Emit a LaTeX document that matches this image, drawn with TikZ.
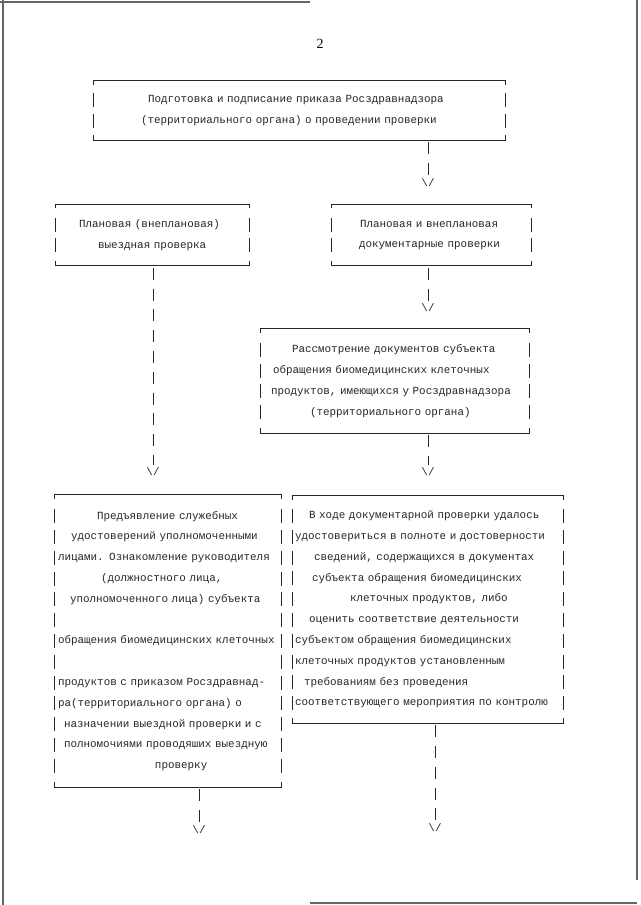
\documentclass[tikz,border=0pt]{standalone}
\usepackage{fontspec}
\setmainfont{Liberation Serif}
\setmonofont{Liberation Mono}
\newcommand\drawmyframe[2]{%
  \draw[frameline] ([yshift=-4pt]#1.north west) -- (#1.north west) -- (#1.north east) -- ([yshift=-4pt]#1.north east);
  \draw[frameline, line width=1.1pt] ([yshift=5pt]#1.south west) -- (#1.south west) -- (#1.south east) -- ([yshift=5pt]#1.south east);
  \foreach \k in {1,...,#2}{%
    \pgfmathsetmacro\dy{((#2+1)/2-\k)*20.8}%
    \draw[frameline] ([yshift={(\dy+7)*1pt}]#1.west) -- ([yshift={(\dy-7)*1pt}]#1.west);
    \draw[frameline] ([yshift={(\dy+7)*1pt}]#1.east) -- ([yshift={(\dy-7)*1pt}]#1.east);
  }%
}
\newcommand\myline[2]{\hspace*{#1pt}\mbox{#2}}
\begin{document}
\begin{tikzpicture}[x=1pt,y=-1pt,
  txt/.style={font=\ttfamily\fontsize{10.9}{20.8}\selectfont, text=black!85, inner sep=0pt},
  box/.style={txt, rectangle, align=left},
  frameline/.style={draw=black!85, line width=0.8pt},
  conn/.style={draw=black!85, line width=0.9pt, dash pattern=on 12pt off 8.8pt, shorten >=3pt},
  vtip/.style={txt, inner sep=0pt},
  pageline/.style={draw=black!60, line width=1.2pt}]
\useasboundingbox (0,0) rectangle (640,905);
% page frame of the scan
\draw[pageline] (3,0) -- (3,905);
\draw[pageline] (637,0) -- (637,880);
\draw[pageline] (0,2) -- (310,2);
\draw[pageline] (310,903) -- (637,903);
% page number
\node[font=\fontsize{14}{16}\selectfont, inner sep=0pt] (pnum) at (320,44) {2};
% boxes
\node[box, minimum width=411pt, text width=411pt, minimum height=59pt] (b1) at (299.5,110.5)
 {\myline{54}{Подготовка и подписание приказа Росздравнадзора}\\
  \myline{47}{(территориального органа) о проведении проверки}};
\drawmyframe{b1}{2}
\node[box, minimum width=193pt, text width=193pt, minimum height=61pt] (b2) at (152.5,235)
 {\myline{23}{Плановая (внеплановая)}\\
  \myline{42}{выездная проверка}};
\drawmyframe{b2}{2}
\node[box, minimum width=199pt, text width=199pt, minimum height=61pt] (b3) at (431.5,235)
 {\myline{28}{Плановая и внеплановая}\\
  \myline{27}{документарные проверки}};
\drawmyframe{b3}{2}
\node[box, minimum width=268pt, text width=268pt, minimum height=104pt] (b4) at (395,381)
 {\myline{31}{Рассмотрение документов субъекта}\\
  \myline{12}{обращения биомедицинских клеточных}\\
  \myline{10}{продуктов, имеющихся у Росздравнадзора}\\
  \myline{49}{(территориального органа)}};
\drawmyframe{b4}{4}
\node[box, minimum width=226pt, text width=226pt, minimum height=292pt] (b5) at (168,641)
 {\myline{42}{Предъявление служебных}\\
  \myline{16}{удостоверений уполномоченными}\\
  \myline{3}{лицами. Ознакомление руководителя}\\
  \myline{46}{(должностного лица,}\\
  \myline{15}{уполномоченного лица) субъекта}\\
  \mbox{}\\
  \myline{3}{обращения биомедицинских клеточных}\\
  \mbox{}\\
  \myline{3}{продуктов с приказом Росздравнад-}\\
  \myline{3}{ра(территориального органа) о}\\
  \myline{9}{назначении выездной проверки и с}\\
  \myline{9}{полномочиями проводяших выездную}\\
  \myline{100}{проверку}};
\drawmyframe{b5}{13}
\node[box, minimum width=270pt, text width=270pt, minimum height=227pt] (b6) at (428,609.5)
 {\myline{16}{В ходе документарной проверки удалось}\\
  \myline{2}{удостовериться в полноте и достоверности}\\
  \myline{21}{сведений, содержащихся в документах}\\
  \myline{19}{субъекта обращения биомедицинских}\\
  \myline{57}{клеточных продуктов, либо}\\
  \myline{16}{оценить соответствие деятельности}\\
  \myline{2}{субъектом обращения биомедицинских}\\
  \myline{2}{клеточных продуктов установленным}\\
  \myline{11}{требованиям без проведения}\\
  \myline{2}{соответствующего мероприятия по контролю}};
\drawmyframe{b6}{10}
% arrow tips written as text
\node[vtip] (a1) at (428,183) {\textbackslash/};
\node[vtip] (a3) at (428,308) {\textbackslash/};
\node[vtip] (a2) at (153,472) {\textbackslash/};
\node[vtip] (a4) at (428,472) {\textbackslash/};
\node[vtip] (a5) at (199,830) {\textbackslash/};
\node[vtip] (a6) at (435,828) {\textbackslash/};
% connectors
\draw[conn] ([yshift=-2pt]b1.south -| a1) -- (a1.north);
\draw[conn] ([yshift=-2pt]b3.south -| a3) -- (a3.north);
\draw[conn] ([yshift=-2pt]b2.south -| a2) -- (a2.north);
\draw[conn] ([yshift=-2pt]b4.south -| a4) -- (a4.north);
\draw[conn] ([yshift=-2pt]b5.south -| a5) -- (a5.north);
\draw[conn] ([yshift=-2pt]b6.south -| a6) -- (a6.north);
\end{tikzpicture}
\end{document}
